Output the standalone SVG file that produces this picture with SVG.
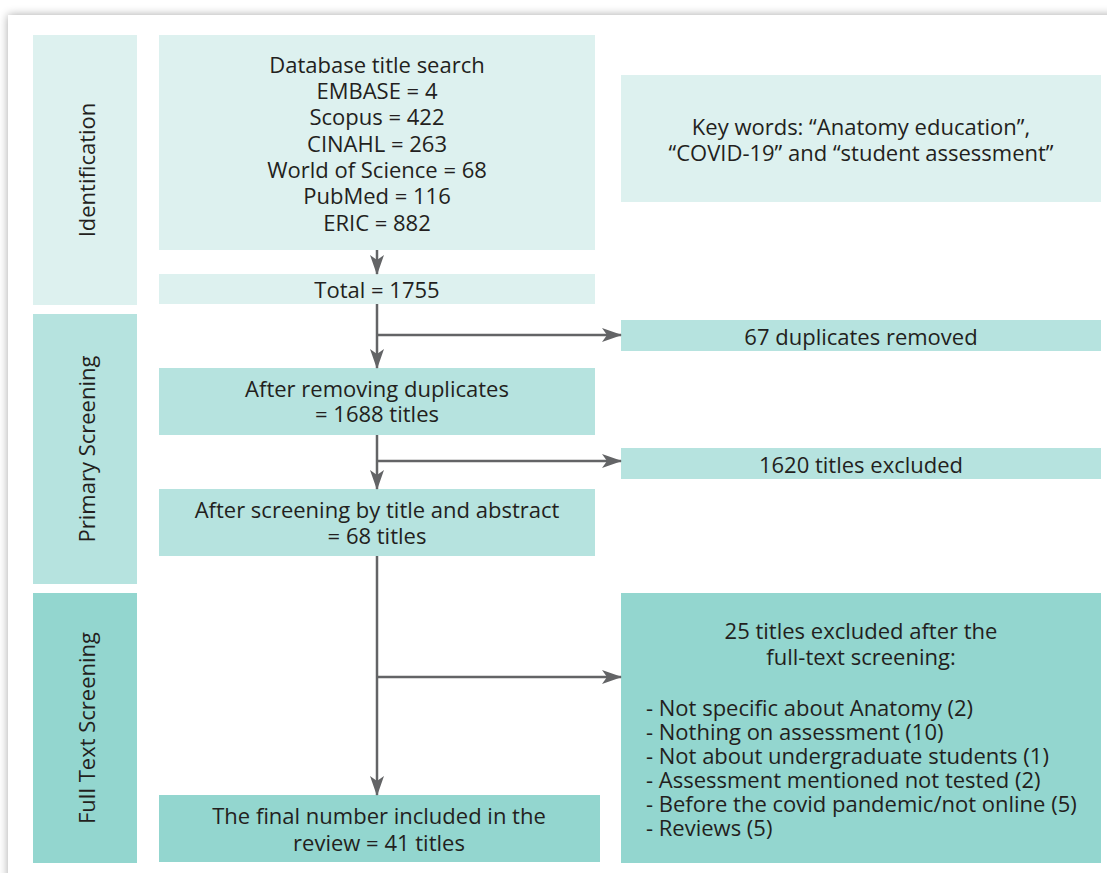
<svg xmlns="http://www.w3.org/2000/svg" width="1107" height="873" viewBox="0 0 1107 873">
  <defs>
    <filter id="cardShadow" x="-5%" y="-5%" width="110%" height="110%">
      <feGaussianBlur in="SourceAlpha" stdDeviation="5"/>
      <feOffset dx="0" dy="0" result="b"/>
      <feComponentTransfer><feFuncA type="linear" slope="0.35"/></feComponentTransfer>
      <feMerge><feMergeNode/><feMergeNode in="SourceGraphic"/></feMerge>
    </filter>
    <marker id="arrow" viewBox="0 0 20 14" refX="19" refY="7" markerWidth="20" markerHeight="14" markerUnits="userSpaceOnUse" orient="auto">
      <path d="M0,0 L20,7 L0,14 L5,7 Z" fill="#636466"/>
    </marker>
    <style>
      .light { fill: #ddf1ef; }
      .mid { fill: #b6e3df; }
      .dark { fill: #93d6cf; }
      text { font-family: "Open Sans", "Noto Sans", "Liberation Sans", sans-serif; font-size: 22px; fill: #231f20; }
      .c { text-anchor: middle; }
      .conn { stroke: #636466; stroke-width: 2.5; fill: none; }
    </style>
  </defs>

  <!-- page card -->
  <rect x="0" y="0" width="1107" height="873" fill="#ffffff"/>
  <rect x="8" y="15" width="1120" height="880" fill="#ffffff" filter="url(#cardShadow)"/>

  <!-- stage labels -->
  <g id="stage-identification">
    <rect class="light" x="33" y="35" width="104" height="270"/>
    <text class="c" transform="translate(95,170) rotate(-90)">Identification</text>
  </g>
  <g id="stage-primary">
    <rect class="mid" x="33" y="314" width="104" height="270"/>
    <text class="c" transform="translate(95,449) rotate(-90)">Primary Screening</text>
  </g>
  <g id="stage-fulltext">
    <rect class="dark" x="33" y="593" width="104" height="270"/>
    <text class="c" transform="translate(95,728) rotate(-90)">Full Text Screening</text>
  </g>

  <!-- main column -->
  <g id="database-search">
    <rect class="light" x="159" y="35" width="436" height="215"/>
    <text class="c" x="377" y="73">Database title search</text>
    <text class="c" x="377" y="99">EMBASE = 4</text>
    <text class="c" x="377" y="125">Scopus = 422</text>
    <text class="c" x="377" y="152">CINAHL = 263</text>
    <text class="c" x="377" y="178">World of Science = 68</text>
    <text class="c" x="377" y="204">PubMed = 116</text>
    <text class="c" x="377" y="231">ERIC = 882</text>
  </g>
  <g id="total">
    <rect class="light" x="159" y="274" width="436" height="30"/>
    <text class="c" x="377" y="298">Total = 1755</text>
  </g>
  <g id="after-duplicates">
    <rect class="mid" x="159" y="368" width="436" height="67"/>
    <text class="c" x="377" y="397">After removing duplicates</text>
    <text class="c" x="377" y="422">= 1688 titles</text>
  </g>
  <g id="after-abstract">
    <rect class="mid" x="159" y="489" width="436" height="67"/>
    <text class="c" x="377" y="518">After screening by title and abstract</text>
    <text class="c" x="377" y="544">= 68 titles</text>
  </g>
  <g id="final-included">
    <rect class="dark" x="159" y="795" width="441" height="67"/>
    <text class="c" x="379" y="824">The final number included in the</text>
    <text class="c" x="379" y="851">review = 41 titles</text>
  </g>

  <!-- side column -->
  <g id="keywords">
    <rect class="light" x="621" y="75" width="480" height="127"/>
    <text class="c" x="861" y="135">Key words: “Anatomy education”,</text>
    <text class="c" x="861" y="161">“COVID-19” and “student assessment”</text>
  </g>
  <g id="duplicates-removed">
    <rect class="mid" x="621" y="320" width="480" height="31"/>
    <text class="c" x="861" y="345">67 duplicates removed</text>
  </g>
  <g id="titles-excluded">
    <rect class="mid" x="621" y="448" width="480" height="31"/>
    <text class="c" x="861" y="473">1620 titles excluded</text>
  </g>
  <g id="fulltext-excluded">
    <rect class="dark" x="621" y="593" width="480" height="270"/>
    <text class="c" x="861" y="639">25 titles excluded after the</text>
    <text class="c" x="861" y="665">full-text screening:</text>
    <text x="646" y="716">- Not specific about Anatomy (2)</text>
    <text x="646" y="740">- Nothing on assessment (10)</text>
    <text x="646" y="764">- Not about undergraduate students (1)</text>
    <text x="646" y="788">- Assessment mentioned not tested (2)</text>
    <text x="646" y="812">- Before the covid pandemic/not online (5)</text>
    <text x="646" y="836">- Reviews (5)</text>
  </g>

  <!-- connectors -->
  <g id="connectors" class="conn">
    <line x1="377" y1="250" x2="377" y2="274" marker-end="url(#arrow)"/>
    <line x1="377" y1="304" x2="377" y2="368" marker-end="url(#arrow)"/>
    <line x1="377" y1="335" x2="621" y2="335" marker-end="url(#arrow)"/>
    <line x1="377" y1="435" x2="377" y2="489" marker-end="url(#arrow)"/>
    <line x1="377" y1="461" x2="621" y2="461" marker-end="url(#arrow)"/>
    <line x1="377" y1="556" x2="377" y2="795" marker-end="url(#arrow)"/>
    <line x1="377" y1="677" x2="621" y2="677" marker-end="url(#arrow)"/>
  </g>
</svg>
